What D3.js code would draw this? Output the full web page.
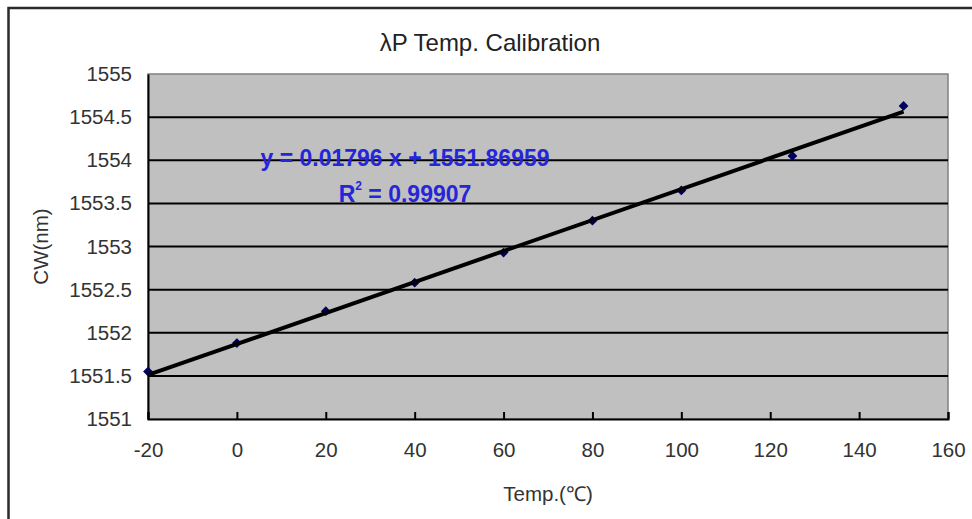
<!DOCTYPE html>
<html lang="en">
<head>
  <meta charset="UTF-8" />
  <title>λP Temp. Calibration</title>
  <script src="https://d3js.org/d3.v7.min.js"></script>
  <style>
    body {
      margin: 0;
      background: #ffffff;
      overflow: hidden;
    }
    text {
      font-family: 'Liberation Sans', Arial, sans-serif;
    }
  </style>
</head>
<body>
  <div id="chart"></div>

  <script>
    // measured points
    const temps = [-20, 0, 20, 40, 60, 80, 100, 125, 150];
    const cw = [1551.55, 1551.88, 1552.25, 1552.58, 1552.93, 1553.30, 1553.65, 1554.05, 1554.63];

    // linear trendline
    const slope = 0.01796;
    const intercept = 1551.86959;
    const rSquared = 0.99907;

    const xTicks = [-20, 0, 20, 40, 60, 80, 100, 120, 140, 160];
    const yTicks = [1551, 1551.5, 1552, 1552.5, 1553, 1553.5, 1554, 1554.5, 1555];

    const width = 972;
    const height = 519;
    const plot = { left: 148, right: 948, top: 74, bottom: 419 };

    const svg = d3.select("#chart").append("svg")
      .attr("width", width)
      .attr("height", height);

    // chart frame (cut off at the right and bottom like the original)
    svg.append("rect")
      .attr("x", 8.5)
      .attr("y", 8)
      .attr("width", 1000)
      .attr("height", 600)
      .attr("fill", "#ffffff")
      .attr("stroke", "#2a2a2a")
      .attr("stroke-width", 2.5);

    const x = d3.scaleLinear().domain([-20, 160]).range([plot.left, plot.right]);
    const y = d3.scaleLinear().domain([1551, 1555]).range([plot.bottom, plot.top]);

    // plot area
    svg.append("rect")
      .attr("x", plot.left)
      .attr("y", plot.top)
      .attr("width", plot.right - plot.left)
      .attr("height", plot.bottom - plot.top)
      .attr("fill", "#c0c0c0")
      .attr("stroke", "#808080")
      .attr("stroke-width", 1.5);

    // horizontal gridlines
    svg.append("g")
      .selectAll("line")
      .data(yTicks.slice(1, -1))
      .enter().append("line")
      .attr("x1", plot.left)
      .attr("x2", plot.right)
      .attr("y1", d => y(d))
      .attr("y2", d => y(d))
      .attr("stroke", "#000")
      .attr("stroke-width", 2);

    // x axis, ticks pointing inward
    const xAxis = svg.append("g")
      .attr("transform", `translate(0,${plot.bottom})`)
      .call(d3.axisBottom(x).tickValues(xTicks).tickSize(-7).tickPadding(23).tickFormat(d => d));
    xAxis.select(".domain").attr("stroke", "#000").attr("stroke-width", 2);
    xAxis.selectAll(".tick line").attr("stroke", "#000").attr("stroke-width", 2);
    xAxis.selectAll(".tick text")
      .attr("font-size", 20.5)
      .attr("fill", "#333")
      .attr("font-family", "'Liberation Sans', Arial, sans-serif");

    // y axis, labels only
    const yAxis = svg.append("g")
      .attr("transform", `translate(${plot.left},0)`)
      .call(d3.axisLeft(y).tickValues(yTicks).tickSize(0).tickPadding(16).tickFormat(d => d));
    yAxis.select(".domain").attr("stroke", "#000").attr("stroke-width", 2);
    yAxis.selectAll(".tick text")
      .attr("font-size", 20.5)
      .attr("fill", "#333")
      .attr("font-family", "'Liberation Sans', Arial, sans-serif");

    // data markers (diamonds)
    const marker = d3.symbol().type(d3.symbolSquare).size(48);
    svg.append("g")
      .selectAll("path")
      .data(temps.map((t, i) => [t, cw[i]]))
      .enter().append("path")
      .attr("d", marker)
      .attr("transform", d => `translate(${x(d[0])},${y(d[1])}) rotate(45)`)
      .attr("fill", "#00005e");

    // trendline
    const fitX = d3.extent(temps);
    svg.append("line")
      .attr("x1", x(fitX[0]))
      .attr("y1", y(slope * fitX[0] + intercept))
      .attr("x2", x(fitX[1]))
      .attr("y2", y(slope * fitX[1] + intercept))
      .attr("stroke", "#000")
      .attr("stroke-width", 4);

    // trendline label
    const eq = svg.append("g")
      .attr("fill", "#2626d9")
      .attr("font-size", 23)
      .attr("font-weight", "bold")
      .attr("text-anchor", "middle");
    eq.append("text")
      .attr("x", 405)
      .attr("y", 166)
      .text(`y = ${slope} x + ${intercept}`);
    const r2 = eq.append("text")
      .attr("x", 405)
      .attr("y", 202);
    r2.append("tspan").text("R");
    r2.append("tspan").attr("font-size", 12).attr("dy", -12).text("2");
    r2.append("tspan").attr("dy", 12).text(` = ${rSquared}`);

    // titles
    svg.append("text")
      .attr("x", 490)
      .attr("y", 51)
      .attr("text-anchor", "middle")
      .attr("font-size", 24)
      .attr("fill", "#222")
      .text("λP Temp. Calibration");

    svg.append("text")
      .attr("x", (plot.left + plot.right) / 2)
      .attr("y", 501)
      .attr("text-anchor", "middle")
      .attr("font-size", 20.5)
      .attr("fill", "#333")
      .text("Temp.(℃)");

    svg.append("text")
      .attr("transform", `translate(48,${(plot.top + plot.bottom) / 2}) rotate(-90)`)
      .attr("text-anchor", "middle")
      .attr("font-size", 20.5)
      .attr("fill", "#333")
      .text("CW(nm)");
  </script>
</body>
</html>
